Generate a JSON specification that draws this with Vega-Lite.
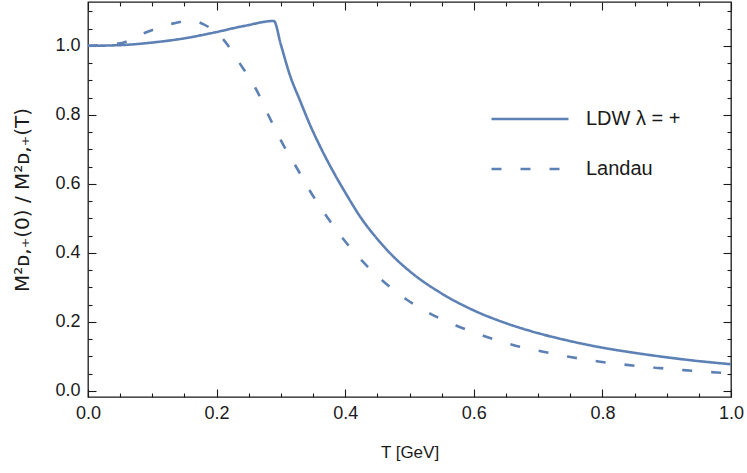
{
  "$schema": "https://vega.github.io/schema/vega-lite/v6.json",
  "width": 643,
  "height": 395,
  "autosize": {"type": "none"},
  "padding": {"left": 88, "top": 2, "right": 16, "bottom": 76},
  "background": "white",
  "config": {
    "view": {"stroke": "#1a1a1a", "strokeWidth": 1.3},
    "font": "Liberation Sans",
    "axis": {
      "domain": false,
      "zindex": 5,
      "ticks": true,
      "tickSize": -8,
      "tickWidth": 1.1,
      "tickColor": "#1a1a1a",
      "labelColor": "#1a1a1a",
      "titleColor": "#1a1a1a",
      "labelFont": "Liberation Sans",
      "titleFont": "Liberation Sans",
      "labelFontSize": 18,
      "titleFontSize": 17,
      "titleFontWeight": "normal",
      "grid": false,
      "labelOverlap": false,
      "labelFlush": false
    }
  },
  "data": {
    "values": [
      {"T": 0.0, "v": 1.0, "s": "LDW  λ = +"},
      {"T": 0.05, "v": 1.002, "s": "LDW  λ = +"},
      {"T": 0.112, "v": 1.012, "s": "LDW  λ = +"},
      {"T": 0.151, "v": 1.022, "s": "LDW  λ = +"},
      {"T": 0.19, "v": 1.036, "s": "LDW  λ = +"},
      {"T": 0.244, "v": 1.058, "s": "LDW  λ = +"},
      {"T": 0.289, "v": 1.072, "s": "LDW  λ = +"},
      {"T": 0.30, "v": 1.003, "s": "LDW  λ = +"},
      {"T": 0.314, "v": 0.915, "s": "LDW  λ = +"},
      {"T": 0.33, "v": 0.840, "s": "LDW  λ = +"},
      {"T": 0.345, "v": 0.772, "s": "LDW  λ = +"},
      {"T": 0.36, "v": 0.712, "s": "LDW  λ = +"},
      {"T": 0.38, "v": 0.640, "s": "LDW  λ = +"},
      {"T": 0.40, "v": 0.575, "s": "LDW  λ = +"},
      {"T": 0.425, "v": 0.500, "s": "LDW  λ = +"},
      {"T": 0.45, "v": 0.440, "s": "LDW  λ = +"},
      {"T": 0.475, "v": 0.389, "s": "LDW  λ = +"},
      {"T": 0.50, "v": 0.347, "s": "LDW  λ = +"},
      {"T": 0.55, "v": 0.282, "s": "LDW  λ = +"},
      {"T": 0.60, "v": 0.233, "s": "LDW  λ = +"},
      {"T": 0.65, "v": 0.196, "s": "LDW  λ = +"},
      {"T": 0.70, "v": 0.167, "s": "LDW  λ = +"},
      {"T": 0.75, "v": 0.144, "s": "LDW  λ = +"},
      {"T": 0.80, "v": 0.125, "s": "LDW  λ = +"},
      {"T": 0.85, "v": 0.110, "s": "LDW  λ = +"},
      {"T": 0.90, "v": 0.097, "s": "LDW  λ = +"},
      {"T": 0.95, "v": 0.086, "s": "LDW  λ = +"},
      {"T": 1.0, "v": 0.077, "s": "LDW  λ = +"},
      {"T": 0.0, "v": 1.0, "s": "Landau"},
      {"T": 0.05, "v": 1.007, "s": "Landau"},
      {"T": 0.086, "v": 1.036, "s": "Landau"},
      {"T": 0.133, "v": 1.065, "s": "Landau"},
      {"T": 0.16, "v": 1.073, "s": "Landau"},
      {"T": 0.179, "v": 1.063, "s": "Landau"},
      {"T": 0.211, "v": 1.017, "s": "Landau"},
      {"T": 0.236, "v": 0.949, "s": "Landau"},
      {"T": 0.262, "v": 0.872, "s": "Landau"},
      {"T": 0.28, "v": 0.801, "s": "Landau"},
      {"T": 0.301, "v": 0.722, "s": "Landau"},
      {"T": 0.325, "v": 0.645, "s": "Landau"},
      {"T": 0.345, "v": 0.580, "s": "Landau"},
      {"T": 0.371, "v": 0.506, "s": "Landau"},
      {"T": 0.397, "v": 0.440, "s": "Landau"},
      {"T": 0.426, "v": 0.377, "s": "Landau"},
      {"T": 0.46, "v": 0.316, "s": "Landau"},
      {"T": 0.496, "v": 0.264, "s": "Landau"},
      {"T": 0.535, "v": 0.221, "s": "Landau"},
      {"T": 0.574, "v": 0.188, "s": "Landau"},
      {"T": 0.617, "v": 0.158, "s": "Landau"},
      {"T": 0.661, "v": 0.133, "s": "Landau"},
      {"T": 0.706, "v": 0.114, "s": "Landau"},
      {"T": 0.75, "v": 0.098, "s": "Landau"},
      {"T": 0.794, "v": 0.085, "s": "Landau"},
      {"T": 0.838, "v": 0.075, "s": "Landau"},
      {"T": 0.882, "v": 0.067, "s": "Landau"},
      {"T": 0.926, "v": 0.060, "s": "Landau"},
      {"T": 0.978, "v": 0.053, "s": "Landau"},
      {"T": 1.0, "v": 0.050, "s": "Landau"}
    ]
  },
  "resolve": {"axis": {"x": "independent", "y": "independent"}},
  "layer": [
    {
      "mark": {"type": "line", "stroke": "#5E81B5", "strokeWidth": 2.6, "interpolate": "monotone", "clip": true},
      "encoding": {
        "x": {
          "field": "T", "type": "quantitative",
          "scale": {"domain": [0, 1], "nice": false, "zero": false},
          "axis": {
            "orient": "bottom",
            "title": "T [GeV]",
            "titlePadding": 22,
            "values": [0, 0.05, 0.1, 0.15, 0.2, 0.25, 0.3, 0.35, 0.4, 0.45, 0.5, 0.55, 0.6, 0.65, 0.7, 0.75, 0.8, 0.85, 0.9, 0.95, 1.0],
            "labelExpr": "abs(datum.value*5 - round(datum.value*5)) < 0.001 ? format(datum.value, '.1f') : ''",
            "tickDash": {"condition": {"test": "abs(datum.value*5 - round(datum.value*5)) < 0.001", "value": [20, 1]}, "value": [4, 100]},
            "labelPadding": 15
          }
        },
        "y": {
          "field": "v", "type": "quantitative",
          "scale": {"domain": [-0.018, 1.127], "nice": false, "zero": false},
          "axis": {
            "orient": "left",
            "title": "M²ᴅ,₊(0) / M²ᴅ,₊(T)",
            "titleFont": "DejaVu Sans",
            "titleFontSize": 20,
            "titlePadding": 22,
            "values": [0, 0.05, 0.1, 0.15, 0.2, 0.25, 0.3, 0.35, 0.4, 0.45, 0.5, 0.55, 0.6, 0.65, 0.7, 0.75, 0.8, 0.85, 0.9, 0.95, 1.0, 1.05, 1.1],
            "labelExpr": "abs(datum.value*5 - round(datum.value*5)) < 0.001 ? format(datum.value, '.1f') : ''",
            "tickDash": {"condition": {"test": "abs(datum.value*5 - round(datum.value*5)) < 0.001", "value": [20, 1]}, "value": [4, 100]},
            "labelPadding": 16
          }
        },
        "detail": {"field": "s"},
        "strokeDash": {
          "field": "s", "type": "nominal",
          "scale": {"domain": ["LDW  λ = +", "Landau"], "range": [[1, 0], [10, 19]]},
          "legend": {
            "title": null,
            "orient": "none",
            "legendX": 402,
            "legendY": 77,
            "symbolType": "stroke",
            "symbolSize": 5929,
            "symbolStrokeWidth": 2.6,
            "symbolStrokeColor": "#5E81B5",
            "labelFontSize": 20,
            "labelFont": "Liberation Sans",
            "labelColor": "#1a1a1a",
            "labelOffset": 16,
            "rowPadding": -9
          }
        }
      }
    },
    {
      "mark": {"type": "line", "opacity": 0},
      "encoding": {
        "x": {
          "field": "T", "type": "quantitative",
          "axis": {
            "orient": "top", "title": null, "labels": false,
            "values": [0, 0.05, 0.1, 0.15, 0.2, 0.25, 0.3, 0.35, 0.4, 0.45, 0.5, 0.55, 0.6, 0.65, 0.7, 0.75, 0.8, 0.85, 0.9, 0.95, 1.0],
            "tickDash": {"condition": {"test": "abs(datum.value*5 - round(datum.value*5)) < 0.001", "value": [20, 1]}, "value": [4, 100]}
          }
        },
        "y": {
          "field": "v", "type": "quantitative",
          "axis": {
            "orient": "right", "title": null, "labels": false,
            "values": [0, 0.05, 0.1, 0.15, 0.2, 0.25, 0.3, 0.35, 0.4, 0.45, 0.5, 0.55, 0.6, 0.65, 0.7, 0.75, 0.8, 0.85, 0.9, 0.95, 1.0, 1.05, 1.1],
            "tickDash": {"condition": {"test": "abs(datum.value*5 - round(datum.value*5)) < 0.001", "value": [20, 1]}, "value": [4, 100]}
          }
        },
        "detail": {"field": "s"}
      }
    }
  ]
}
